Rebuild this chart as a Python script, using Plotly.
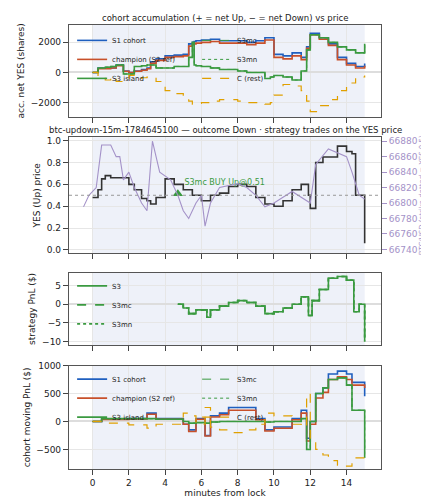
import plotly.graph_objects as go

# Panel 1: accumulation (shares)
acc_t = [0,0.3,0.7,1,1.3,1.7,2,2.3,2.7,3,3.2,3.5,4,4.5,5,5.3,5.5,5.6,5.7,6,6.5,7,8,8.5,9,9.5,9.8,10,10.5,11,11.5,11.8,12,12.5,13,13.5,14,14.5,15]
acc_s1 = [0,300,300,300,500,100,0,100,200,300,700,900,1100,1150,1200,1900,2000,2050,2100,2150,2200,2100,2100,2000,2100,2300,2300,1200,1100,1300,1000,1700,2600,2300,1900,1000,600,400,600]
acc_ch = [0,250,250,300,450,80,0,80,150,250,600,800,1000,1050,1100,1750,1850,1900,1950,2000,2050,1950,1950,1850,1950,2150,2150,1000,900,1100,850,1600,2500,2200,1800,850,500,300,450]
acc_s3 = [0,300,350,400,500,-100,-100,400,450,500,500,300,300,400,400,1000,2000,500,450,400,300,200,100,0,0,-400,-300,-200,-300,-500,100,1500,2500,2300,2000,1700,1500,1300,1900]
acc_c = [0,-300,-500,-300,-600,-400,-200,-400,-350,-300,-350,-600,-1200,-1400,-1700,-1900,-2100,-2100,-2050,-2000,-1900,-1800,-1900,-2000,-2000,-2100,-2000,-1500,-800,-900,-1200,-1900,-2600,-2200,-1800,-1200,-700,-300,-200]

# Panel 2: YES price and BTC
px_t = [0,0.3,0.5,0.7,1,1.5,2,2.3,2.7,3,3.2,3.5,4,4.5,5,5.5,6,6.5,7,7.5,8,8.5,9,9.5,10,10.5,11,11.5,11.9,12,12.3,12.7,13.5,14,14.3,14.5,14.8,15]
px_yes = [0.48,0.55,0.65,0.68,0.66,0.66,0.60,0.55,0.47,0.45,0.42,0.48,0.65,0.60,0.55,0.50,0.45,0.50,0.52,0.58,0.60,0.58,0.48,0.42,0.40,0.45,0.55,0.60,0.50,0.38,0.80,0.85,0.95,0.90,0.88,0.50,0.50,0.06]
btc_t = [-0.5,-0.2,0.2,0.5,1,1.3,1.5,1.7,2,2.3,2.7,3,3.3,3.7,4.3,4.7,5,5.3,5.7,6,6.2,6.5,7,8,8.5,9,9.5,10,11,12,12.3,13,14,14.3,14.7,15]
btc = [66795,66810,66820,66875,66875,66860,66860,66830,66840,66820,66800,66790,66880,66840,66830,66810,66790,66780,66800,66810,66770,66800,66820,66825,66820,66810,66795,66800,66815,66800,66850,66870,66860,66840,66810,66805]

# Panel 3: strategy PnL
pnl_t = [4.7,5,5.3,5.7,6,6.3,6.5,7,7.5,8,8.5,9,9.5,10,10.5,11,11.5,11.9,12.1,12.5,13,13.5,14,14.4,14.7,15]
pnl_s3 = [0,-1,-2.5,-1.5,-1.5,-3.5,-1.5,-0.5,0.5,1,0.5,-0.5,-2.5,-2,-1,0,2,-3,1,4,7,7.5,6.5,-2,0,-10]

# Panel 4: cohort moving PnL
mp_t = [0,0.5,2,3,3.5,5,5.3,5.7,6.2,6.5,7,7.5,8.5,9,9.5,10,11,11.5,11.8,12,12.3,12.7,13,13.5,14,14.3,15]
mp_s1 = [0,40,50,150,50,-50,-150,50,-250,100,150,250,250,50,-150,-100,50,200,-300,0,500,600,850,900,850,700,450]
mp_ch = [0,35,45,130,40,-50,-180,40,-260,80,120,200,200,30,-170,-120,30,150,-350,-50,420,520,750,800,750,650,600]
mp_s3 = [0,50,50,50,40,0,-30,-20,-30,-10,0,0,0,0,-10,0,0,50,-500,0,500,600,750,780,650,200,-650]
mp_c = [0,-30,-60,-120,-50,150,100,-50,250,-100,-150,-200,-150,-50,150,100,-50,-100,500,-300,-500,-600,-700,-780,-800,-650,-600]

BLUE, RED, GREEN, GOLD, PURP = "#1f5fbf", "#c8502a", "#3a9a40", "#e0a000", "#a492c8"
fig = go.Figure()
def L(x, y, name, color, dash="solid", xa="x", ya="y", legend=None, show=True, w=1.6):
    fig.add_trace(go.Scatter(x=x, y=y, name=name, mode="lines", line=dict(color=color, dash=dash, width=w, shape="hv"),
                             xaxis=xa, yaxis=ya, legend=legend, showlegend=show))

L(acc_t, acc_s1, "S1 cohort", BLUE, legend="legend")
L(acc_t, acc_s3, "S3mc", GREEN, "dash", legend="legend", w=1)
L(acc_t, acc_ch, "champion (S2 ref)", RED, legend="legend")
L(acc_t, acc_s3, "S3mn", GREEN, "dot", legend="legend", w=1)
L(acc_t, acc_s3, "S3 island", GREEN, legend="legend")
L(acc_t, acc_c, "C (rest)", GOLD, "dash", legend="legend", w=1.2)

fig.add_trace(go.Scatter(x=btc_t, y=btc, mode="lines", line=dict(color=PURP, width=1.1), xaxis="x2", yaxis="y5", showlegend=False))
L(px_t, px_yes, "YES", "#333333", xa="x2", ya="y2", show=False)
fig.add_trace(go.Scatter(x=[4.7], y=[0.515], mode="markers+text", marker=dict(symbol="triangle-up", size=9, color=GREEN),
                         text=["S3mc BUY Up@0.51"], textposition="top right", textfont=dict(size=8, color=GREEN),
                         xaxis="x2", yaxis="y2", showlegend=False))

L(pnl_t, pnl_s3, "S3", GREEN, xa="x3", ya="y3", legend="legend2")
L(pnl_t, pnl_s3, "S3mc", GREEN, "dash", xa="x3", ya="y3", legend="legend2")
L(pnl_t, pnl_s3, "S3mn", GREEN, "dot", xa="x3", ya="y3", legend="legend2")

L(mp_t, mp_s1, "S1 cohort", BLUE, xa="x4", ya="y4", legend="legend3")
L(mp_t, mp_s3, "S3mc", GREEN, "dash", xa="x4", ya="y4", legend="legend3", w=1)
L(mp_t, mp_ch, "champion (S2 ref)", RED, xa="x4", ya="y4", legend="legend3")
L(mp_t, mp_s3, "S3mn", GREEN, "dot", xa="x4", ya="y4", legend="legend3", w=1)
L(mp_t, mp_s3, "S3 island", GREEN, xa="x4", ya="y4", legend="legend3")
L(mp_t, mp_c, "C (rest)", GOLD, "dash", xa="x4", ya="y4", legend="legend3", w=1.2)

ax = dict(range=[-1.3, 15.9], showgrid=True, gridcolor="#e6e6e6", zeroline=False, showline=True, mirror=True,
          linecolor="#555", linewidth=1.2, ticks="outside", tickfont=dict(size=9), tickvals=[0,2,4,6,8,10,12,14])
ya = dict(showgrid=True, gridcolor="#e6e6e6", zeroline=True, zerolinecolor="#dddddd", showline=True, mirror=True,
          linecolor="#555", linewidth=1.2, ticks="outside", tickfont=dict(size=9))
def T(s):
    return dict(text=s, font=dict(size=9), standoff=4)
doms = [[0.793, 1], [0.486, 0.747], [0.279, 0.442], [0, 0.233]]
lay = {}
for i, d in enumerate(doms, 1):
    s = "" if i == 1 else str(i)
    a = dict(ax, domain=[0, 1], anchor="y"+s, showticklabels=(i == 4))
    if i > 1:
        a["matches"] = "x"
    lay["xaxis"+s] = a
lay["yaxis"] = dict(ya, domain=doms[0], range=[-2950, 3150], tickvals=[-2000,0,2000], title=T("acc. net YES (shares)"), anchor="x")
lay["yaxis2"] = dict(ya, domain=doms[1], range=[-0.03, 1.03], dtick=0.2, tickformat=".1f", title=T("YES (Up) price"), anchor="x2", zeroline=False)
lay["yaxis5"] = dict(overlaying="y2", side="right", range=[66735, 66885], dtick=20, tickformat="d", showgrid=False, tickfont=dict(size=9, color=PURP),
                     title=dict(text="BTC/USD (strike dotted = YES 0.5)", font=dict(size=7, color=PURP), standoff=2), anchor="x2", ticks="outside", tickcolor=PURP)
lay["yaxis3"] = dict(ya, domain=doms[2], range=[-11, 8.5], tickvals=[-10,-5,0,5], title=T("strategy PnL ($)"), anchor="x3")
lay["yaxis4"] = dict(ya, domain=doms[3], range=[-850, 1000], tickvals=[-500,0,500,1000], title=T("cohort moving PnL ($)"), anchor="x4")
lay["xaxis4"]["title"] = dict(text="minutes from lock", font=dict(size=9), standoff=2)

shapes = []
for i in range(1, 5):
    s = "" if i == 1 else str(i)
    shapes.append(dict(type="rect", xref="x"+s, yref="y"+s+" domain", x0=0, x1=15, y0=0, y1=1, fillcolor="#eef1f9", line_width=0, layer="below"))
shapes.append(dict(type="line", xref="x2 domain", yref="y2", x0=0, x1=1, y0=0.5, y1=0.5, line=dict(color="#999", width=1, dash="dot")))

leg = dict(orientation="h", bgcolor="rgba(255,255,255,0)", font=dict(size=7), xanchor="left", yanchor="top",
           tracegroupgap=0, traceorder="normal", itemwidth=30)
fig.update_layout(**lay, shapes=shapes, width=429, height=500, margin=dict(l=46, r=44, t=14, b=27),
                  plot_bgcolor="white", paper_bgcolor="white", font=dict(family="DejaVu Sans", color="#222"),
                  legend=dict(leg, x=0.01, y=0.998, entrywidth=80),
                  legend2=dict(leg, orientation="v", x=0.01, y=0.445),
                  legend3=dict(leg, x=0.01, y=0.235, entrywidth=80),
                  annotations=[
                      dict(text="cohort accumulation (+ = net Up, − = net Down) vs price", x=0.5, y=1, xref="paper", yref="paper", yanchor="bottom", showarrow=False, font=dict(size=8.5)),
                      dict(text="btc-updown-15m-1784645100 — outcome Down · strategy trades on the YES price", x=0.5, y=0.747, xref="paper", yref="paper", yanchor="bottom", showarrow=False, font=dict(size=8.5)),
                  ])
fig.write_html("out.html")
